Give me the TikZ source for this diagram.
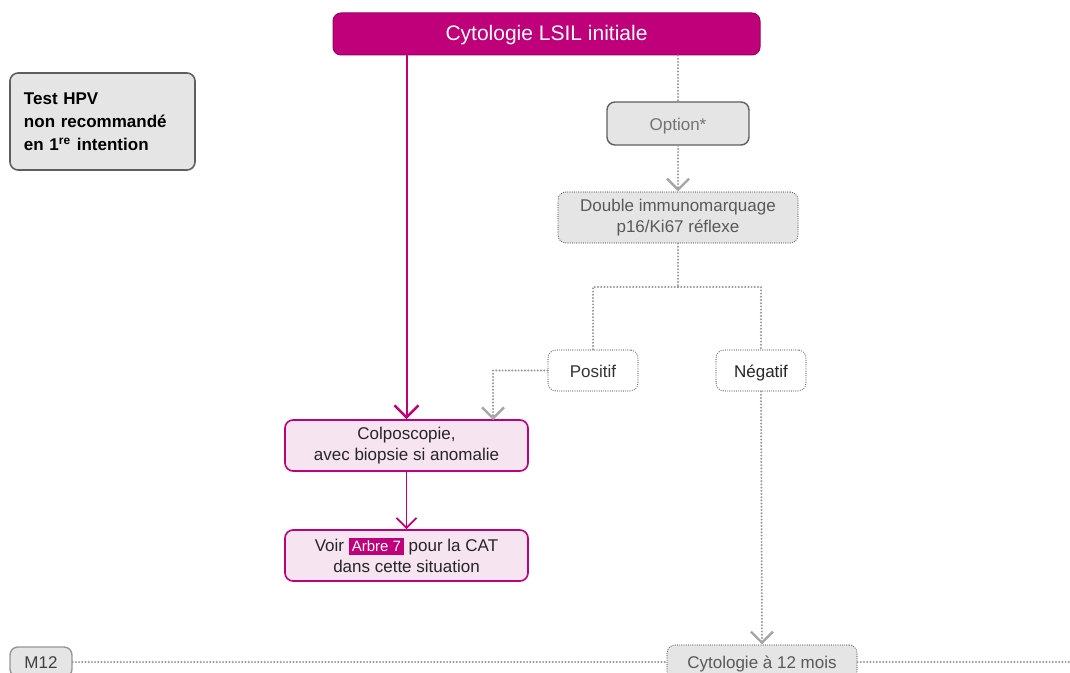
\documentclass[tikz,border=0pt]{standalone}
\usepackage{fontspec}
\setmainfont{Liberation Sans}
\usetikzlibrary{arrows.meta}
\definecolor{mag}{RGB}{192,0,122}
\definecolor{pinkbg}{RGB}{246,228,240}
\definecolor{greybg}{RGB}{229,229,229}
\definecolor{greyline}{RGB}{150,150,150}
\definecolor{greyedge}{RGB}{95,95,95}
\definecolor{greytxt}{RGB}{115,115,115}
\begin{document}
\begin{tikzpicture}[line cap=round,line join=round,x=0.5pt,y=-0.5pt,
	box/.style={rounded corners=4pt,align=center,inner sep=0pt,font=\fontsize{8.5}{10.5}\selectfont},
	onerow/.style={text height=1.6ex,text depth=0.3ex},
	pinkbox/.style={box,draw=mag,line width=0.8pt,fill=pinkbg,text=black!85,minimum width=121.5pt,minimum height=25.5pt},
	greybox/.style={box,draw=greyedge,line width=0.7pt,fill=greybg},
	dotbox/.style={box,draw=greyedge,line width=0.6pt,dash pattern=on 0pt off 1.1pt},
	dotline/.style={draw=greyline,line width=1.1pt,dash pattern=on 0pt off 1.6pt},
	greytip/.style={-{Straight Barb[length=5.5pt,width=11pt,line width=1.2pt,color=greyline!85]}},
	magtip/.style={-{Straight Barb[length=6pt,width=12pt,line width=1.3pt]}}]
\useasboundingbox (0,0) rectangle (1070,673);
\clip (0,0) rectangle (1070,673);
% boxes
\node[box,onerow,fill=mag,draw=mag!80!black,line width=0.5pt,text=white,minimum width=213.5pt,minimum height=21pt,
	font=\fontsize{10.5}{12}\selectfont] (initiale) at (546.5,34) {Cytologie LSIL initiale};
\node[greybox,line width=0.8pt,align=left,minimum width=92.5pt,minimum height=48.5pt,text width=78.5pt,
	font=\bfseries\fontsize{8.5}{11.5}\selectfont] (hpv) at (102.5,121.5) {Test HPV\\non recommandé\\en 1\textsuperscript{re}~intention};
\node[greybox,onerow,text=greytxt,minimum width=71pt,minimum height=21.5pt] (option) at (678,123.5) {Option*};
\node[dotbox,fill=greybg,text=black!65,minimum width=120pt,minimum height=25.5pt] (double) at (678,217.5) {Double immunomarquage\\p16/Ki67 réflexe};
\node[dotbox,onerow,fill=white,text=black!80,minimum width=45pt,minimum height=20.5pt] (positif) at (593,370.5) {Positif};
\node[dotbox,onerow,fill=white,text=black!85,minimum width=45pt,minimum height=20.5pt] (negatif) at (761,370.5) {Négatif};
\node[pinkbox] (colpo) at (406.5,445.5) {Colposcopie,\\avec biopsie si anomalie};
\node[pinkbox] (voir) at (406.5,555.5) {Voir {\fboxsep=1.5pt\colorbox{mag}{\color{white}\fontsize{7.5}{9}\selectfont Arbre 7}} pour la CAT\\dans cette situation};
\node[dotbox,onerow,fill=greybg,text=black!65,minimum width=95pt,minimum height=17pt] (cyto12) at (762,662) {Cytologie à 12 mois};
\node[greybox,onerow,draw=greyline,text=black!75,minimum width=31pt,minimum height=15pt] (m12) at (41,662) {M12};
\coordinate (split) at (678,287);
\coordinate (colpoin) at (493,420);
\coordinate (fin) at (1070,662);
% connectors
\draw[mag,line width=1pt,magtip] (colpo.north |- initiale.south) -- (colpo.north);
\draw[mag,line width=0.9pt,-{Straight Barb[length=5pt,width=10pt,line width=0.9pt]}] (colpo.south) -- (voir.north);
\draw[dotline] (option.north |- initiale.south) -- (option.north);
\draw[dotline,greytip] (option.south) -- (double.north);
\draw[dotline] (double.south) -- (split);
\draw[dotline] (split) -| (positif.north);
\draw[dotline] (split) -| (negatif.north);
\draw[dotline,greytip] (positif.west) -| (colpoin);
\draw[dotline,greytip] (negatif.south) -- (cyto12.north);
\draw[dotline] (m12.east) -- (cyto12.west);
\draw[dotline] (cyto12.east) -- (fin);
\end{tikzpicture}
\end{document}
